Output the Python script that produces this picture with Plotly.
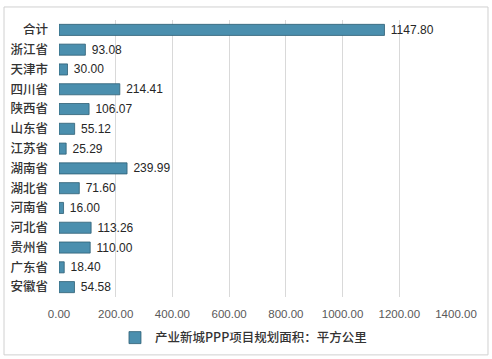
import plotly.graph_objects as go

categories = ["合计", "浙江省", "天津市", "四川省", "陕西省", "山东省", "江苏省",
              "湖南省", "湖北省", "河南省", "河北省", "贵州省", "广东省", "安徽省"]
values = [1147.80, 93.08, 30.00, 214.41, 106.07, 55.12, 25.29,
          239.99, 71.60, 16.00, 113.26, 110.00, 18.40, 54.58]
series_name = "产业新城PPP项目规划面积：平方公里"
x_ticks = [0, 200, 400, 600, 800, 1000, 1200, 1400]

fig = go.Figure()
fig.add_trace(go.Bar(
    y=categories, x=values, orientation="h", name=series_name,
    marker=dict(color="#4b8fae", line=dict(color="#2f5f75", width=0.8)),
    width=0.56,
    texttemplate="\u00a0%{x:.2f}", textposition="outside",
    constraintext="none",
    textfont=dict(size=12, color="#262626", family="Liberation Sans, Noto Sans CJK SC"),
    cliponaxis=False,
))

fig.update_layout(
    width=492, height=359,
    margin=dict(l=59, r=36, t=20, b=62, autoexpand=False),
    paper_bgcolor="white", plot_bgcolor="white",
    showlegend=True,
    legend=dict(orientation="h", x=0.141, xanchor="left", y=-0.148, yanchor="middle",
                itemwidth=30,
                font=dict(size=12.5, color="#333333", family="Noto Sans CJK SC", weight=500)),
    shapes=[dict(type="rect", xref="paper", yref="paper",
                 x0=-0.1385, x1=1.0806, y0=-0.209, y1=1.047,
                 line=dict(color="#d0d0d0", width=1), fillcolor="rgba(0,0,0,0)", layer="below")],
)
fig.update_xaxes(range=[0, 1400], tickvals=x_ticks, ticktext=[f"{t:.2f}" for t in x_ticks],
                 showgrid=True, gridcolor="#d9d9d9", gridwidth=1, zeroline=False,
                 showline=False, ticks="", ticklabelstandoff=8, automargin=False,
                 tickfont=dict(size=11.5, color="#595959", family="Liberation Sans, Noto Sans CJK SC"))
fig.update_yaxes(autorange="reversed", showgrid=False, showline=False, ticks="",
                 ticklabelstandoff=10, automargin=False,
                 tickfont=dict(size=12.5, color="#333333", family="Noto Sans CJK SC", weight=500))

fig.write_html("out.html", post_script="document.body.style.margin='0';",
               config={"displayModeBar": False})
